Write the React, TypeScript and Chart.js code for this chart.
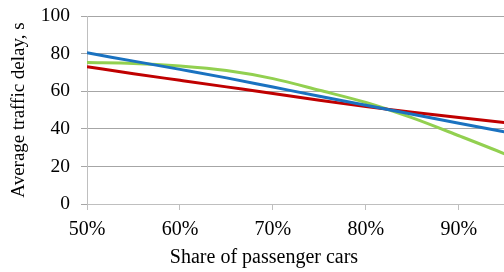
import React, { useEffect, useRef } from "react";
import { Chart, registerables } from "chart.js";

Chart.register(...registerables);

const shares = [50, 55, 60, 65, 70, 75, 80, 85, 90, 95, 100];
const blueSeries = [80.4, 76.0, 71.6, 67.1, 62.2, 57.3, 52.5, 47.7, 43.0, 38.3, 33.6];
const redSeries = [73.0, 69.3, 65.8, 62.3, 58.8, 55.2, 51.8, 48.8, 46.0, 43.3, 40.8];
const greenSeries = [75.2, 74.8, 73.4, 71.0, 66.7, 60.5, 54.0, 45.8, 36.3, 26.5, 16.0];
const yTicks = [0, 20, 40, 60, 80, 100];
const xTicks = [50, 60, 70, 80, 90];
const xTitle = "Share of passenger cars";
const yTitle = "Average traffic delay, s";

const FONT = "'Liberation Serif', 'Times New Roman', serif";

export default function App() {
  const ref = useRef<HTMLCanvasElement | null>(null);
  useEffect(() => {
    if (!ref.current) return;
    const toPts = (arr: number[]) => shares.map((x, i) => ({ x, y: arr[i] }));
    const titlesPlugin = {
      id: "titlesPlugin",
      afterDraw(chart: any) {
        const ctx = chart.ctx;
        const area = chart.chartArea;
        ctx.save();
        ctx.fillStyle = "#000";
        ctx.textAlign = "center";
        ctx.textBaseline = "middle";
        ctx.font = `20px ${FONT}`;
        ctx.fillText(xTitle, 264, 258);
        ctx.translate(19.5, (area.top + area.bottom) / 2);
        ctx.rotate(-Math.PI / 2);
        ctx.font = `19px ${FONT}`;
        ctx.fillText(yTitle, 0, 0);
        ctx.restore();
      },
    };
    const chart = new Chart(ref.current, {
      type: "line",
      data: {
        datasets: [
          { label: "A", data: toPts(blueSeries), borderColor: "#1a72c0", borderWidth: 3, pointRadius: 0, cubicInterpolationMode: "monotone" },
          { label: "B", data: toPts(redSeries), borderColor: "#c00000", borderWidth: 3, pointRadius: 0, cubicInterpolationMode: "monotone" },
          { label: "C", data: toPts(greenSeries), borderColor: "#92d050", borderWidth: 3, pointRadius: 0, cubicInterpolationMode: "monotone" },
        ],
      },
      options: {
        animation: false,
        responsive: false,
        devicePixelRatio: 1,
        layout: { padding: { top: 16, right: 0, bottom: 0, left: 0 } },
        plugins: { legend: { display: false }, tooltip: { enabled: false } },
        scales: {
          x: {
            type: "linear",
            min: 50,
            max: 94.85,
            afterBuildTicks: (scale: any) => {
              scale.ticks = xTicks.map((v) => ({ value: v }));
            },
            afterFit: (scale: any) => {
              scale.height = 68;
              scale.paddingLeft = 0;
              scale.paddingRight = 0;
            },
            grid: { drawOnChartArea: false, drawTicks: true, tickLength: 6, color: "#bfbfbf", lineWidth: 1 },
            border: { color: "#bfbfbf", width: 1 },
            ticks: {
              padding: 8,
              color: "#000",
              font: { family: FONT, size: 20 },
              callback: (v: any) => `${v}%`,
              maxRotation: 0,
            },
            title: { display: false, text: xTitle },
          },
          y: {
            min: 0,
            max: 100,
            afterBuildTicks: (scale: any) => {
              scale.ticks = yTicks.map((v) => ({ value: v }));
            },
            afterFit: (scale: any) => {
              scale.width = 87;
              scale.paddingTop = 0;
              scale.paddingBottom = 0;
            },
            grid: { color: "#a6a6a6", lineWidth: 1, tickLength: 6 },
            border: { color: "#bfbfbf", width: 1 },
            ticks: { padding: 11, color: "#000", font: { family: FONT, size: 19.5 } },
            title: { display: false, text: yTitle },
          },
        },
      },
      plugins: [titlesPlugin],
    } as any);
    return () => chart.destroy();
  }, []);
  return (
    <div style={{ position: "absolute", left: 0, top: 0, width: 504, height: 272, overflow: "hidden", background: "#fff" }}>
      <canvas ref={ref} width={504} height={272} style={{ display: "block", width: 504, height: 272 }} />
    </div>
  );
}
